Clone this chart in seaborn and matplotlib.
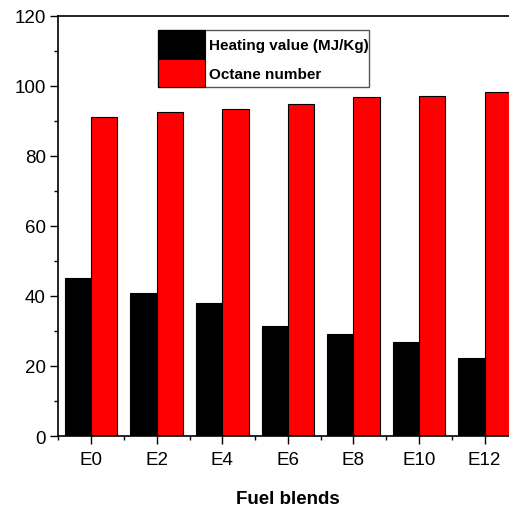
import numpy as np
import pandas as pd
import seaborn as sns
import matplotlib.pyplot as plt
from matplotlib.ticker import MultipleLocator, FixedLocator

# Dane
blends = ["E0", "E2", "E4", "E6", "E8", "E10", "E12"]
heating_value = [45.0, 40.9, 38.0, 31.3, 29.0, 26.9, 22.3]
octane_number = [91.1, 92.4, 93.5, 94.8, 96.9, 97.2, 98.1]
series_names = ["Heating value (MJ/Kg)", "Octane number"]

df = pd.DataFrame({
    "blend": blends * 2,
    "value": heating_value + octane_number,
    "property": [series_names[0]] * len(blends) + [series_names[1]] * len(blends),
})

sns.set_style("ticks")
plt.rcParams["font.family"] = ["Liberation Sans", "DejaVu Sans"]
plt.rcParams["text.color"] = "black"
plt.rcParams["axes.labelcolor"] = "black"
plt.rcParams["xtick.color"] = "black"
plt.rcParams["ytick.color"] = "black"

fig = plt.figure(figsize=(5.09, 5.10), dpi=100)
ax = fig.add_axes([0.1146, 0.1431, 0.902, 0.824])

sns.barplot(data=df, x="blend", y="value", hue="property",
            palette=["black", "red"], saturation=1, width=0.8, gap=0,
            edgecolor="black", linewidth=0.8, ax=ax, legend=True)

ax.set_xlim(-0.5, 6.5)
ax.set_ylim(0, 120)
ax.yaxis.set_major_locator(MultipleLocator(20))
ax.yaxis.set_minor_locator(MultipleLocator(10))
ax.xaxis.set_minor_locator(FixedLocator(np.arange(-0.5, 7, 1)))

ax.tick_params(axis="both", which="major", direction="out", length=5.5,
               width=1, labelsize=13.5, colors="black")
ax.tick_params(axis="x", which="major", pad=5)
ax.tick_params(axis="both", which="minor", direction="out", length=3,
               width=1, color="black")

for side in ["left", "bottom", "top", "right"]:
    ax.spines[side].set_visible(True)
    ax.spines[side].set_color("black")
    ax.spines[side].set_linewidth(1.2)

ax.set_xlabel("Fuel blends", fontsize=13.5, fontweight="bold", labelpad=16)
ax.set_ylabel("")

handles, labels = ax.get_legend_handles_labels()
ax.legend(handles, labels, loc="upper left", bbox_to_anchor=(0.310, 0.939),
          bbox_transform=fig.transFigure, borderaxespad=0, borderpad=0,
          prop={"weight": "bold", "size": 11}, handlelength=3.07,
          handleheight=2.45, labelspacing=0.05, handletextpad=0.3,
          fancybox=False, framealpha=1, edgecolor="#555555")
ax.get_legend().get_frame().set_linewidth(1)

plt.savefig("out.png", dpi=100)
plt.close()
